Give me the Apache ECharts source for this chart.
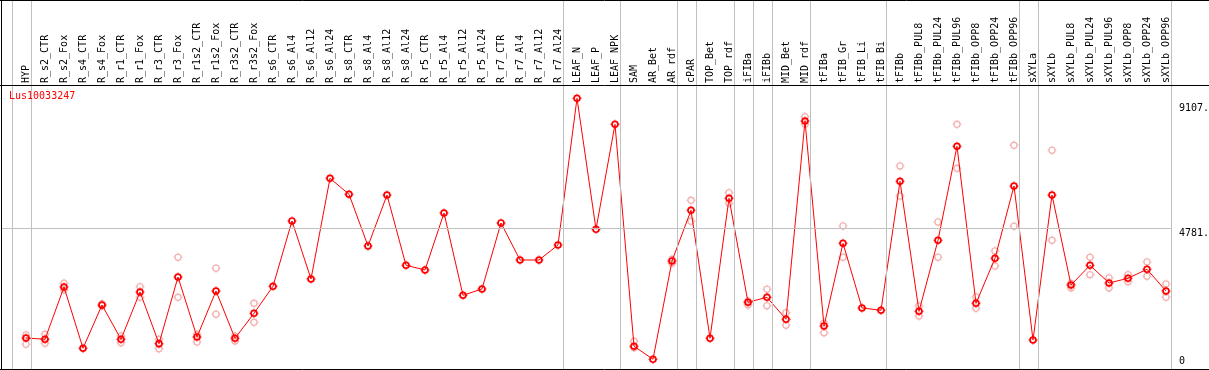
<!DOCTYPE html>
<html>
<head>
<meta charset="utf-8">
<script src="https://cdn.jsdelivr.net/npm/echarts@6/dist/echarts.min.js"></script>
<style>
html,body{margin:0;padding:0;background:#fff;}
#chart{width:1209px;height:370px;}
</style>
</head>
<body>
<div id="chart"></div>
<script>
const categories = ["HYP","R_s2_CTR","R_s2_Fox","R_s4_CTR","R_s4_Fox","R_r1_CTR","R_r1_Fox","R_r3_CTR","R_r3_Fox","R_r1s2_CTR","R_r1s2_Fox","R_r3s2_CTR","R_r3s2_Fox","R_s6_CTR","R_s6_Al4","R_s6_Al12","R_s6_Al24","R_s8_CTR","R_s8_Al4","R_s8_Al12","R_s8_Al24","R_r5_CTR","R_r5_Al4","R_r5_Al12","R_r5_Al24","R_r7_CTR","R_r7_Al4","R_r7_Al12","R_r7_Al24","LEAF_N","LEAF_P","LEAF_NPK","SAM","AR_Bet","AR_rdf","cPAR","TOP_Bet","TOP_rdf","iFIBa","iFIBb","MID_Bet","MID_rdf","tFIBa","tFIB_Gr","tFIB_Li","tFIB_Bi","tFIBb","tFIBb_PUL8","tFIBb_PUL24","tFIBb_PUL96","tFIBb_OPP8","tFIBb_OPP24","tFIBb_OPP96","sXYLa","sXYLb","sXYLb_PUL8","sXYLb_PUL24","sXYLb_PUL96","sXYLb_OPP8","sXYLb_OPP24","sXYLb_OPP96"];
const meanValues = [994,949,2755,639,2134,949,2582,798,3100,1029,
  2617,984,1847,2779,5034,3031,6508,5956,4171,5931,
  3504,3342,5310,2469,2686,4965,3687,3687,4205,9270,
  4747,8372,708,259,3653,5403,984,5817,2227,2399,
  1640,8486,1409,4264,2030,1951,6404,1916,4367,7613,
  2192,3746,6242,925,5931,2824,3504,2893,3055,3366,2617];
const repHigh = [1098,1122,2883,null,2180,1063,2765,949,3781,1122,
  3401,1063,2192,null,null,null,null,null,null,null,
  null,null,null,null,null,null,null,null,null,null,
  null,null,880,null,3711,5748,null,6011,2272,2676,
  1868,8635,1502,4861,null,null,6933,2099,4999,8372,
  2410,3998,7647,null,7475,2883,3781,3066,3180,3618,2859];
const repLow = [777,811,2651,null,2100,832,2399,625,2399,856,
  1813,891,1536,null,null,null,null,null,null,null,
  null,null,null,null,null,null,null,null,null,null,
  null,null,659,null,3573,5023,null,5645,2134,2109,
  1433,8372,1177,3781,null,null,5897,1754,3781,6853,
  2020,3480,4851,null,4367,2721,3180,2721,2938,3125,2399];
const yTickValues = [0, 4781, 9107];
const gridValue = 4781;
const groupEnds = [-1,0,28,31,34,35,37,38,39,41,45,52,53,60];
const geneId = "Lus10033247";

const FONT = "DejaVu Sans Mono";
const markerPath = "path://M4.5 0.7A3.8 3.8 0 1 1 4.5 8.3A3.8 3.8 0 1 1 4.5 0.7Z" +
  "M4.5 2.4A2.1 2.1 0 1 0 4.5 6.6A2.1 2.1 0 1 0 4.5 2.4Z" +
  "M4 0L5 0L5 1.3L4 1.3Z M4 7.7L5 7.7L5 9L4 9Z M0 4L1.3 4L1.3 5L0 5Z M7.7 4L9 4L9 5L7.7 5Z";
const repPath = "path://M4.5 0.8A3.7 3.7 0 1 1 4.5 8.2A3.7 3.7 0 1 1 4.5 0.8Z" +
  "M4.5 2.1A2.4 2.4 0 1 0 4.5 6.9A2.4 2.4 0 1 0 4.5 2.1Z" +
  "M4 0L5 0L5 1.3L4 1.3Z M4 7.7L5 7.7L5 9L4 9Z M0 4L1.3 4L1.3 5L0 5Z M7.7 4L9 4L9 5L7.7 5Z";

const idx = categories.map((c, i) => i);
const meanData = meanValues.map((v, i) => [i, v]);
const repData = [];
repHigh.forEach((v, i) => { if (v != null) repData.push([i, v]); });
repLow.forEach((v, i) => { if (v != null) repData.push([i, v]); });

// x mapping: category i at pixel 26 + 19*i ; grid spans 1..1171
const xMin = (1 - 26) / 19, xMax = (1171 - 26) / 19;
// y mapping: value 0 at pixel ~366.8, 4781 at 228.3
const k = (228.3 - 103) / (9107 - 4781);
const y0 = 228.3 + 4781 * k;
const yMin = -(369 - y0) / k, yMax = (y0 - 1) / k;

const chart = echarts.init(document.getElementById('chart'), null, {renderer: 'canvas'});
chart.setOption({
  backgroundColor: '#fff',
  animation: false,
  title: {
    text: geneId, left: 9, top: 91, padding: 0,
    textStyle: {color: '#ff0000', fontFamily: FONT, fontSize: 10, fontWeight: 'normal'}
  },
  grid: {left: 1, right: 38, top: 1, bottom: 1, containLabel: false, outerBoundsMode: 'none'},
  xAxis: {
    type: 'value', position: 'top', offset: -84,
    min: xMin, max: xMax,
    axisLine: {show: false}, axisTick: {show: false}, splitLine: {show: false},
    axisLabel: {
      customValues: idx, rotate: 90, margin: 2,
      fontFamily: FONT, fontSize: 10, color: '#000',
      formatter: v => categories[Math.round(v)] || ''
    }
  },
  yAxis: {
    type: 'value', position: 'right', min: yMin, max: yMax,
    axisLine: {show: false}, axisTick: {show: false}, splitLine: {show: false},
    axisLabel: {
      customValues: yTickValues, margin: 8, align: 'left', verticalAlign: 'middle',
      fontFamily: FONT, fontSize: 10, color: '#000',
      formatter: v => v === 0 ? '{b|0}' : '{t|' + v + '.}',
      rich: {
        t: {fontFamily: FONT, fontSize: 10, lineHeight: 10, padding: [10, 0, 0, 0], color: '#000'},
        b: {fontFamily: FONT, fontSize: 10, lineHeight: 10, padding: [0, 0, 10, 0], color: '#000'}
      }
    }
  },
  graphic: [
    {type: 'line', shape: {x1: 0, y1: 0.5, x2: 1209, y2: 0.5}, style: {stroke: '#000', lineWidth: 1}, z: 100},
    {type: 'line', shape: {x1: 0, y1: 85.5, x2: 1209, y2: 85.5}, style: {stroke: '#000', lineWidth: 1}, z: 100},
    {type: 'line', shape: {x1: 1.5, y1: 0, x2: 1.5, y2: 370}, style: {stroke: '#000', lineWidth: 1}, z: 100},
    {type: 'line', shape: {x1: 0, y1: 369.5, x2: 1209, y2: 369.5}, style: {stroke: '#000', lineWidth: 1}, z: 100}
  ],
  series: [
    {
      type: 'scatter', data: repData, symbol: repPath, symbolSize: 9,
      itemStyle: {color: '#f0a0a0'}, z: 2, silent: true,
      markLine: {
        silent: true, symbol: ['none', 'none'], label: {show: false},
        lineStyle: {color: '#c0c0c0', width: 1, type: 'solid'},
        data: groupEnds.map(g => ({xAxis: g + 0.25})).concat([{yAxis: gridValue}])
      }
    },
    {
      type: 'line', data: meanData, symbol: markerPath, symbolSize: 9, showAllSymbol: true,
      lineStyle: {color: '#ff0000', width: 1}, itemStyle: {color: '#ff0000'}, z: 3, silent: true
    }
  ]
});
</script>
</body>
</html>
